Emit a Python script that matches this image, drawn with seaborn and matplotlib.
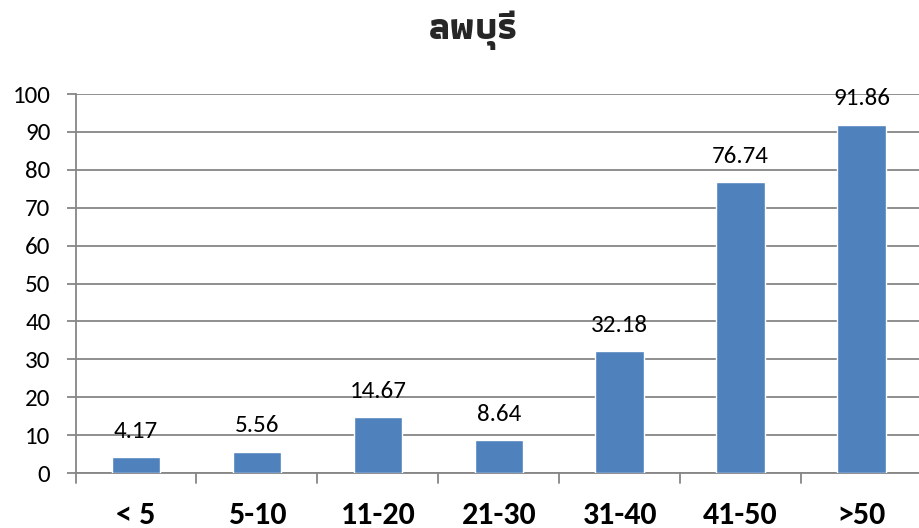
import matplotlib
matplotlib.use("Agg")
import matplotlib.pyplot as plt
import seaborn as sns
import pandas as pd

title = "ลพบุรี"
categories = ["< 5", "5-10", "11-20", "21-30", "31-40", "41-50", ">50"]
values = [4.17, 5.56, 14.67, 8.64, 32.18, 76.74, 91.86]
yticks = [0, 10, 20, 30, 40, 50, 60, 70, 80, 90, 100]

sns.set_theme(style="white")
plt.rcParams["font.family"] = ["Carlito", "Open Sans", "DejaVu Sans"]

df = pd.DataFrame({"group": categories, "value": values})

fig = plt.figure(figsize=(9.19, 5.28), dpi=100)
ax = fig.add_axes([75.5 / 919, 55 / 528, (922 - 75.5) / 919, (473 - 94) / 528])

sns.barplot(data=df, x="group", y="value", color="#4F81BD", width=0.4,
            saturation=1, ax=ax, zorder=3)

ax.set_ylim(0, 100)
ax.set_xlim(-0.5, len(categories) - 0.5)
ax.set_yticks(yticks)
ax.set_yticklabels([str(t) for t in yticks], fontsize=18, color="black")
ax.yaxis.grid(True, color="#868686", linewidth=1.3, zorder=0)
ax.set_axisbelow(True)

ax.set_xticks(range(len(categories)))
ax.set_xticklabels(categories, fontsize=23, fontweight="bold", color="black")
ax.tick_params(axis="x", length=0, pad=20)
ax.tick_params(axis="y", length=6.5, width=1.3, color="#868686", left=True,
               pad=11.5)

# category boundary ticks below the axis
for b in [i - 0.5 for i in range(len(categories) + 1)]:
    ax.plot([b, b], [0, -2.6], color="#868686", linewidth=1.3,
            clip_on=False, zorder=2)

for s in ["top", "right"]:
    ax.spines[s].set_visible(False)
for s in ["left", "bottom"]:
    ax.spines[s].set_color("#868686")
    ax.spines[s].set_linewidth(1.3)

for i, v in enumerate(values):
    ax.annotate(f"{v:.2f}", (i, v), xytext=(0, 14), textcoords="offset points",
                ha="center", va="baseline", fontsize=18, color="black")

ax.set_xlabel("")
ax.set_ylabel("")
fig.text(473 / 919, 1 - 39 / 528, title, ha="center", va="baseline",
         fontsize=27, fontweight="bold", family=["Athiti", "DejaVu Sans"])

fig.savefig("out.png", dpi=100)
